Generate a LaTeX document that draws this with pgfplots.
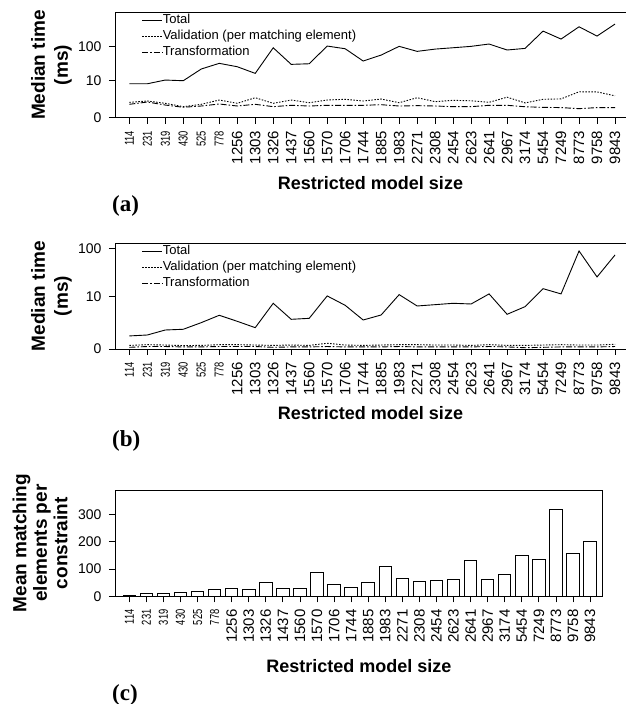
\documentclass[border=0pt]{standalone}
\usepackage{fontspec}
\setmainfont{Liberation Sans}
\newfontfamily\serifb{Liberation Serif}
\usepackage{graphicx}
\usepackage{pgfplots}
\pgfplotsset{compat=1.18}
\usepackage{pgfplotstable}

\newcommand\tn[1]{{\fontsize{13}{13}\selectfont\scalebox{0.72}[1]{#1}}}

\pgfplotstableread{
x total valid trans
1  8.1  1.72 1.39
2  8.1  1.96 1.77
3  10.6 1.55 1.28
4  10.1 1.05 0.97
5  22.8 1.39 1.14
6  33.4 2.16 1.44
7  26.6 1.55 1.14
8  16.9 2.67 1.39
9  93.8 1.55 1.05
10 31.2 2.16 1.24
11 32.5 1.65 1.14
12 105  2.16 1.24
13 88   2.31 1.24
14 39   1.96 1.24
15 58   2.37 1.33
16 103  1.65 1.14
17 74   2.67 1.19
18 86   1.84 1.14
19 94   2.10 1.05
20 103  2.00 1.05
21 120  1.72 1.24
22 81   2.80 1.24
23 90   1.62 1.04
24 280  2.31 0.96
25 166  2.40 0.93
26 371  4.40 0.80
27 202  4.35 0.93
28 442  3.15 0.93
}\timesA

\pgfplotstableread{
x total valid trans
1  0.82 0.18 0.08
2  0.90 0.22 0.12
3  1.39 0.20 0.12
4  1.47 0.17 0.10
5  2.35 0.18 0.10
6  3.69 0.22 0.12
7  2.56 0.22 0.12
8  1.66 0.20 0.12
9  7.13 0.18 0.08
10 2.90 0.20 0.10
11 3.08 0.18 0.10
12 10.4 0.30 0.12
13 6.41 0.20 0.10
14 2.78 0.18 0.10
15 3.76 0.20 0.10
16 11.1 0.22 0.12
17 6.19 0.22 0.10
18 6.64 0.20 0.10
19 7.13 0.20 0.10
20 6.88 0.18 0.10
21 11.5 0.22 0.12
22 3.91 0.18 0.10
23 5.97 0.18 0.06
24 14.9 0.20 0.08
25 11.5 0.22 0.10
26 88.6 0.20 0.10
27 26.2 0.20 0.10
28 73.6 0.24 0.12
}\timesB

\pgfplotstableread{
x mean
1  4
2  9
3  9
4  14
5  18
6  26
7  28
8  26
9  50
10 28
11 28
12 86
13 43
14 33
15 49
16 109
17 64
18 55
19 59
20 61
21 132
22 60
23 79
24 150
25 135
26 316
27 157
28 200
}\matchC

\pgfplotsset{
  panel/.style={
    scale only axis,
    axis line style={line width=0.8pt},
    tick style={line width=0.8pt, black},
    tick align=outside,
    major tick length=6pt,
    xtick pos=left, ytick pos=left,
    xtick={1,...,28},
    xticklabels={\tn{114},\tn{231},\tn{319},\tn{430},\tn{525},\tn{778},1256,1303,1326,1437,1560,1570,1706,1744,1885,1983,2271,2308,2454,2623,2641,2967,3174,5454,7249,8773,9758,9843},
    xticklabel style={rotate=90, anchor=east, inner sep=0pt, font=\fontsize{15}{15}\selectfont},
    xticklabel shift=7pt,
    yticklabel style={anchor=east, inner sep=0pt, font=\fontsize{14}{14}\selectfont},
    yticklabel shift=7.3pt,
    xlabel={Restricted model size},
    ylabel style={font=\bfseries\fontsize{19}{23}\selectfont, align=center, anchor=center},
    clip=false,
  },
  logpanel/.style={
    panel,
    width=511pt, height=#1,
    xmin=0.205, xmax=28.61,
    y coord trafo/.code={\pgfmathparse{log10(1+##1)}},
    y coord inv trafo/.code={\pgfmathparse{10^(##1)-1}},
    ymin=0,
    ytick={0,10,100}, yticklabels={0,10,100},
    ylabel={Median time\\(ms)},
    ylabel style={at={(axis description cs:-0.1243,0.5)}},
    legend style={at={(axis description cs:0.0522,0.985)}, anchor=north west, draw=none, fill=none,
      inner sep=0pt, row sep=3.5pt,
      nodes={inner sep=0pt, anchor=west, font=\fontsize{13}{13}\selectfont, text height=9.5pt, text depth=3pt},
      /tikz/every even column/.style={column sep=1.6pt}},
    legend cell align=left,
    legend image code/.code={\draw[##1] (0pt,0pt) -- (20pt,0pt);},
  },
  tot/.style={black, line width=0.9pt, solid},
  val/.style={black, line width=0.9pt, dash pattern=on 1.5pt off 1.5pt},
  tra/.style={black, line width=0.9pt, dash pattern=on 6pt off 2pt on 1.5pt off 2pt},
}

\begin{document}
\begin{tikzpicture}[x=1pt,y=1pt]
\useasboundingbox (0pt,0pt) rectangle (625pt,704pt);

% (a)
\begin{axis}[logpanel=105.4pt, at={(115pt,586.3pt)}, anchor=south west, ymax=954,
  xlabel style={font=\bfseries\fontsize{18}{18}\selectfont, at={(axis description cs:0.5,0)}, anchor=base, yshift=-72.3pt}]
\addplot[tot] table[x=x,y=total] {\timesA};
\addlegendentry{Total}
\addplot[val] table[x=x,y=valid] {\timesA};
\addlegendentry{Validation (per matching element)}
\addplot[tra] table[x=x,y=trans] {\timesA};
\addlegendentry{Transformation}
\end{axis}
\node[anchor=base west, font=\serifb\bfseries\fontsize{23}{23}\selectfont, inner sep=0pt] at (112pt,492pt) {(a)};

% (b)
\begin{axis}[logpanel=105.7pt, at={(115pt,355pt)}, anchor=south west, ymax=126.4,
  xlabel style={font=\bfseries\fontsize{18}{18}\selectfont, at={(axis description cs:0.5,0)}, anchor=base, yshift=-71pt}]
\addplot[tot] table[x=x,y=total] {\timesB};
\addlegendentry{Total}
\addplot[val] table[x=x,y=valid] {\timesB};
\addlegendentry{Validation (per matching element)}
\addplot[tra] table[x=x,y=trans] {\timesB};
\addlegendentry{Transformation}
\end{axis}
\node[anchor=base west, font=\serifb\bfseries\fontsize{23}{23}\selectfont, inner sep=0pt] at (112pt,257pt) {(b)};

% (c)
\begin{axis}[panel, at={(115pt,107.7pt)}, anchor=south west, width=487.7pt, height=106.3pt,
  xmin=0.162, xmax=28.74, ymin=0, ymax=389,
  ytick={0,100,200,300}, yticklabels={0,100,200,300},
  ylabel={Mean matching\\elements per\\constraint},
  ylabel style={at={(axis description cs:-0.1538,0.5)}, font=\bfseries\fontsize{19}{20.5}\selectfont},
  xlabel style={font=\bfseries\fontsize{18}{18}\selectfont, at={(axis description cs:0.5,0)}, anchor=base, yshift=-76pt}]
\addplot[ybar, bar width=12.5pt, fill=white, draw=black, line width=1pt] table[x=x,y=mean] {\matchC};
\end{axis}
\node[anchor=base west, font=\serifb\bfseries\fontsize{23}{23}\selectfont, inner sep=0pt] at (112pt,4pt) {(c)};
\end{tikzpicture}
\end{document}
